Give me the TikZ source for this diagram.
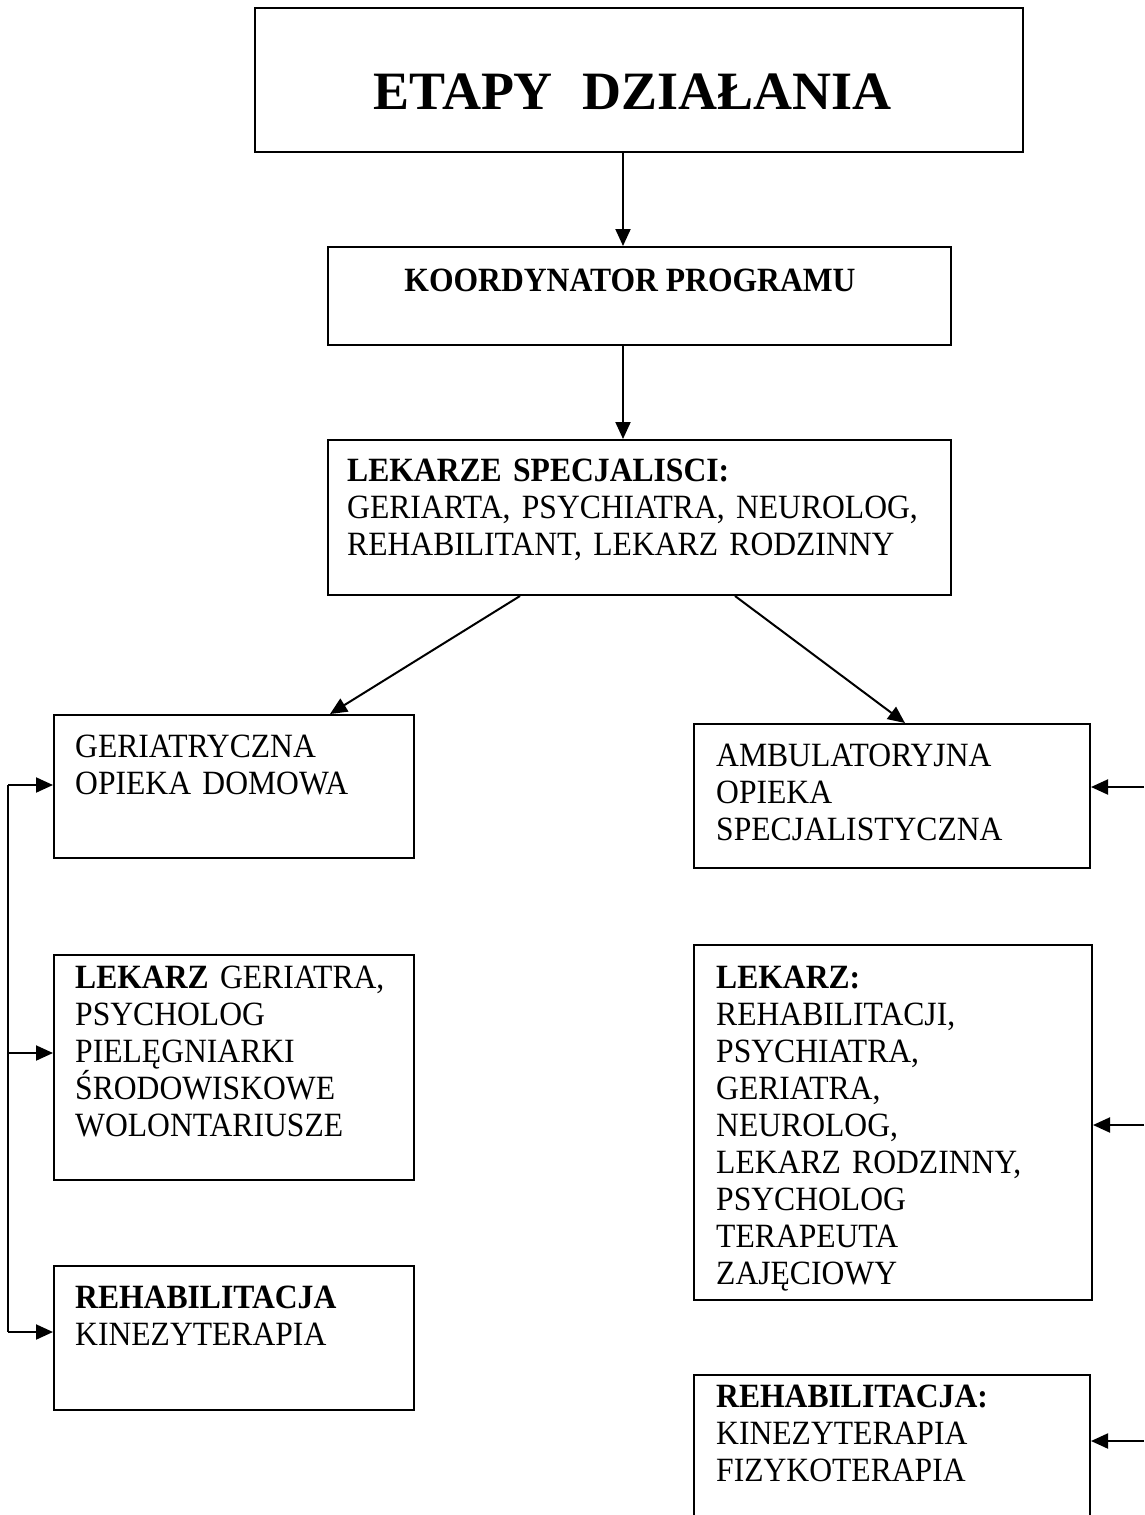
\documentclass[tikz,border=0pt]{standalone}
\usepackage{fontspec}
\setmainfont{Liberation Serif}
\newfontfamily\bodyfont[FakeStretch=0.93]{Liberation Serif}
\usetikzlibrary{arrows.meta}
\begin{document}
\begin{tikzpicture}[x=1pt,y=-1pt,
  box/.style={draw, line width=2pt, inner sep=0pt, rectangle},
  arr/.style={line width=2pt, -{Triangle[length=17pt,width=15pt]}},
  ln/.style={line width=2pt},
  txt/.style={anchor=base west, inner sep=0pt, text width=390pt, align=left,
              font=\bodyfont\fontsize{34}{37}\selectfont}]
\useasboundingbox (0,0) rectangle (1144,1515);
% boxes
\node[box, minimum width=768pt, minimum height=144pt] (T) at (639,80) {};
\node[box, minimum width=623pt, minimum height=98pt] (K) at (639.5,296) {};
\node[box, minimum width=623pt, minimum height=155pt] (S) at (639.5,517.5) {};
\node[box, minimum width=360pt, minimum height=143pt] (L1) at (234,786.5) {};
\node[box, minimum width=396pt, minimum height=144pt] (R1) at (892,796) {};
\node[box, minimum width=360pt, minimum height=225pt] (L2) at (234,1067.5) {};
\node[box, minimum width=398pt, minimum height=355pt] (R2) at (893,1122.5) {};
\node[box, minimum width=360pt, minimum height=144pt] (L3) at (234,1338) {};
\node[box, minimum width=396pt, minimum height=185pt] (R3) at (892,1467.5) {};
% texts
\node[anchor=base, inner sep=0pt, font=\fontsize{54}{60}\selectfont\bfseries] (tT) at (633,109) {ETAPY\hspace{30pt}DZIAŁANIA};
\node[anchor=base, inner sep=0pt, font=\bodyfont\fontsize{34}{37}\selectfont\bfseries] (tK) at (630,291) {KOORDYNATOR PROGRAMU};
\node[txt, text width=600pt] (tS) at (347,481) {\textbf{LEKARZE SPECJALISCI:}\\GERIARTA, PSYCHIATRA, NEUROLOG,\\REHABILITANT, LEKARZ RODZINNY};
\node[txt] (tL1) at (75,757) {GERIATRYCZNA\\OPIEKA DOMOWA};
\node[txt] (tR1) at (716,766) {AMBULATORYJNA\\OPIEKA\\SPECJALISTYCZNA};
\node[txt] (tL2) at (75,988) {\textbf{LEKARZ} GERIATRA,\\PSYCHOLOG\\PIELĘGNIARKI\\ŚRODOWISKOWE\\WOLONTARIUSZE};
\node[txt] (tR2) at (716,988) {\textbf{LEKARZ:}\\REHABILITACJI,\\PSYCHIATRA,\\GERIATRA,\\NEUROLOG,\\LEKARZ RODZINNY,\\PSYCHOLOG\\TERAPEUTA\\ZAJĘCIOWY};
\node[txt] (tL3) at (75,1308) {\textbf{REHABILITACJA}\\KINEZYTERAPIA};
\node[txt] (tR3) at (716,1407) {\textbf{REHABILITACJA:}\\KINEZYTERAPIA\\FIZYKOTERAPIA};
% coordinates
\coordinate (ax) at (623,0);
\coordinate (lb1) at (8,785);
\coordinate (lb2) at (8,1053);
\coordinate (lb3) at (8,1332);
\coordinate (rb1) at (1144,787);
\coordinate (rb2) at (1144,1125);
\coordinate (rb3) at (1144,1441);
% connectors
\draw[arr] (T.south -| ax) -- (K.north -| ax);
\draw[arr] (K.south -| ax) -- (S.north -| ax);
\draw[arr] ([xshift=-119.5pt]S.south) -- ([xshift=96pt]L1.north);
\draw[arr] ([xshift=95.5pt]S.south) -- ([xshift=13pt]R1.north);
\draw[ln] (lb1) -- (lb3);
\draw[arr] (lb1) -- (lb1 -| L1.west);
\draw[arr] (lb2) -- (lb2 -| L2.west);
\draw[arr] (lb3) -- (lb3 -| L3.west);
\draw[arr] (rb1) -- (rb1 -| R1.east);
\draw[arr] (rb2) -- (rb2 -| R2.east);
\draw[arr] (rb3) -- (rb3 -| R3.east);
\end{tikzpicture}
\end{document}
